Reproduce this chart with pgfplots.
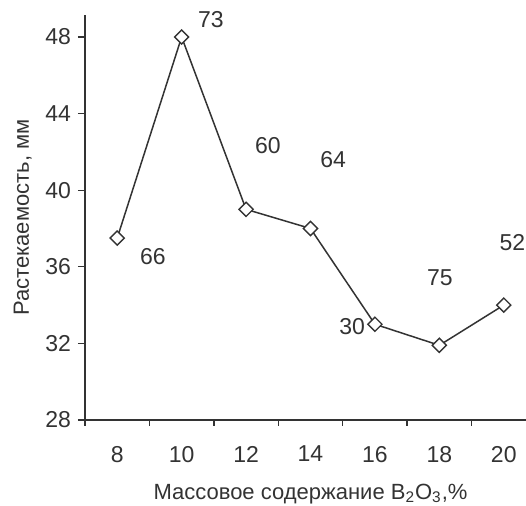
\documentclass[border=0pt]{standalone}
\usepackage{fontspec}
\setmainfont{Liberation Sans}
\usepackage{pgfplots}
\pgfplotsset{compat=1.18}
\definecolor{ink}{HTML}{333333}
\begin{document}
\begin{tikzpicture}
\begin{axis}[
  at={(0,0)}, anchor=south west,
  scale only axis,
  width=225.5pt, height=202.5pt,
  xmin=7, xmax=21, ymin=28, ymax=49.15,
  axis x line*=bottom, axis y line*=left,
  axis line style={ink, line width=0.7pt, -},
  xtick={8,10,...,20},
  minor xtick={7,9,...,21},
  ytick={28,32,...,48},
  tick align=outside,
  major tick length=3.5pt,
  minor tick length=3pt,
  x tick style={draw=none},
  minor x tick style={draw=ink, line width=0.7pt},
  y tick style={draw=ink, line width=0.7pt},
  /pgf/number format/assume math mode=true,
  ticklabel style={font=\fontsize{11.5}{13}\selectfont, text=ink},
  xticklabel style={yshift=-6pt},
  xlabel={Массовое содержание B\textsubscript{2}O\textsubscript{3},\%},
  ylabel={Растекаемость, мм},
  label style={font=\fontsize{11}{13}\selectfont, text=ink},
  xlabel style={yshift=-4pt},
  clip=false,
]
\addplot[ink, line width=0.75pt, mark=square*, mark size=2.5pt,
  mark options={rotate=45, fill=white, draw=ink, line width=0.7pt}]
  coordinates {(8,37.5) (10,48) (12,39) (14,38) (16,33) (18,31.9) (20,34)};
\begin{scope}[every node/.style={font=\fontsize{11.5}{13}\selectfont, text=ink}]
\node at (axis cs:9.11,36.51) {66};
\node at (axis cs:10.91,48.89) {73};
\node at (axis cs:12.68,42.31) {60};
\node at (axis cs:14.70,41.58) {64};
\node at (axis cs:15.29,32.86) {30};
\node at (axis cs:18.02,35.42) {75};
\node at (axis cs:20.27,37.24) {52};
\end{scope}
\end{axis}
\pgfresetboundingbox
\useasboundingbox (-42.5pt,-43pt) rectangle (220.5pt,210pt);
\end{tikzpicture}
\end{document}
